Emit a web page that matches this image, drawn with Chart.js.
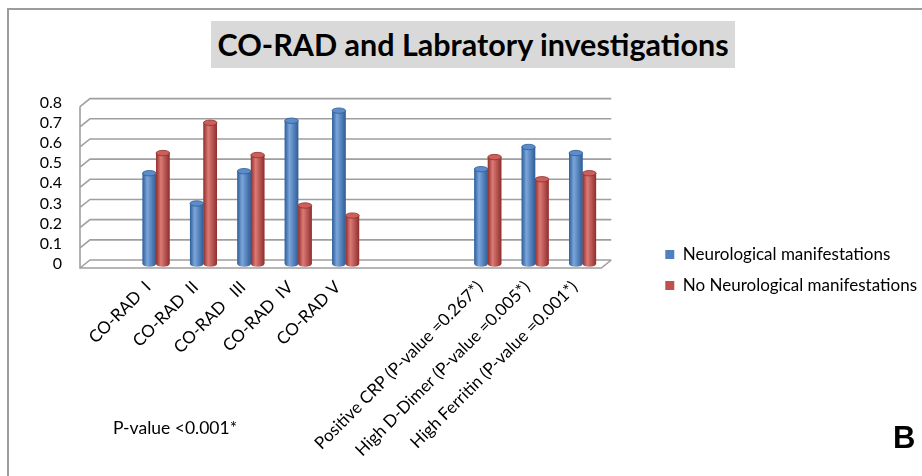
<!DOCTYPE html>
<html>
<head>
<meta charset="utf-8">
<title>CO-RAD and Labratory investigations</title>
<script src="https://cdn.jsdelivr.net/npm/chart.js@4.4.1/dist/chart.umd.min.js"></script>
<style>
  body { margin: 0; background: #fff; }
  #page { position: relative; width: 922px; height: 476px; overflow: hidden; background: #fff; font-family: Lato, sans-serif; color: #000; }
  #frame { position: absolute; left: 7px; top: 8px; width: 930px; height: 480px; border-top: 2px solid #9c9c9c; border-left: 2px solid #9c9c9c; }
  #title { position: absolute; left: 211px; top: 21px; width: 524px; height: 47px; background: #d9d9d9; font-weight: bold; font-size: 30.5px; line-height: 47px; text-align: center; white-space: nowrap; }
  #pvalue { position: absolute; left: 113px; top: 417px; font-size: 17.5px; }
  #panel { position: absolute; left: 893px; top: 420px; font-family: "Liberation Sans", Arial, sans-serif; font-weight: bold; font-size: 31px; }
  #chartBox { position: absolute; left: 10px; top: 70px; width: 917px; height: 400px; }
</style>
</head>
<body>
<div id="page">
  <div id="frame"></div>
  <div id="title">CO-RAD and Labratory investigations</div>
  <div id="chartBox"><canvas id="coradChart"></canvas></div>
  <div id="pvalue">P-value &lt;0.001*</div>
  <div id="panel">B</div>
</div>
<script>
const categories = ['', 'CO-RAD  I', 'CO-RAD  II', 'CO-RAD   III', 'CO-RAD  IV', 'CO-RAD V', '', '',
    'Positive CRP (P-value =0.267*)', 'High D-Dimer (P-value =0.005*)', 'High Ferritin (P-value =0.001*)']
const neuroValues = [null, 0.45, 0.30, 0.46, 0.71, 0.76, null, null, 0.47, 0.58, 0.55]
const noNeuroValues = [null, 0.55, 0.70, 0.54, 0.29, 0.24, null, null, 0.53, 0.42, 0.45]
const yTicks = [0, 0.1, 0.2, 0.3, 0.4, 0.5, 0.6, 0.7, 0.8]
const seriesNames = ['Neurological manifestations', 'No Neurological manifestations']

const seriesColors = ['#4f81bd', '#c0504d']
const shades = [
    { dark: '#2f5d96', light: '#7aa6dc', top: '#5b8ccb' },
    { dark: '#8f2f2c', light: '#dc7a76', top: '#cd5f5b' }
]
const depth = { dx: 5, dy: 4 }

Chart.defaults.font.family = 'Lato'
Chart.defaults.color = '#000'

// pseudo 3D walls and floor
const walls = {
    id: 'walls',
    beforeDatasetsDraw(chart) {
        const { ctx, chartArea: a, scales: { y } } = chart
        const { dx, dy } = depth
        ctx.save()
        ctx.strokeStyle = '#9f9f9f'
        ctx.lineWidth = 1.6
        ctx.beginPath()
        yTicks.forEach(v => {
            const py = y.getPixelForValue(v)
            ctx.moveTo(a.left - dx, py + dy)
            ctx.lineTo(a.left + dx, py - dy)
            ctx.lineTo(a.right + dx, py - dy)
        })
        ctx.moveTo(a.left - dx, y.getPixelForValue(yTicks[yTicks.length - 1]) + dy)
        ctx.lineTo(a.left - dx, a.bottom + dy)
        ctx.lineTo(a.right - dx, a.bottom + dy)
        ctx.lineTo(a.right + dx, a.bottom - dy)
        ctx.stroke()
        ctx.restore()
    }
}

// shade the bars as cylinders
const cylinders = {
    id: 'cylinders',
    afterDatasetsDraw(chart) {
        const ctx = chart.ctx
        ctx.save()
        chart.data.datasets.forEach((ds, i) => {
            const shade = shades[i]
            chart.getDatasetMeta(i).data.forEach((bar, j) => {
                if (ds.data[j] == null) return
                const { x, y, base, width } = bar.getProps(['x', 'y', 'base', 'width'], true)
                const rx = width / 2, ry = width * 0.2
                const l = x - rx, r = x + rx
                const g = ctx.createLinearGradient(l, 0, r, 0)
                g.addColorStop(0, shade.dark)
                g.addColorStop(0.35, shade.light)
                g.addColorStop(1, shade.dark)
                ctx.fillStyle = g
                ctx.beginPath()
                ctx.moveTo(l, y)
                ctx.lineTo(l, base)
                ctx.ellipse(x, base, rx, ry, 0, Math.PI, 0, true)
                ctx.lineTo(r, y)
                ctx.closePath()
                ctx.fill()
                ctx.fillStyle = shade.top
                ctx.strokeStyle = shade.dark
                ctx.lineWidth = 0.8
                ctx.beginPath()
                ctx.ellipse(x, y, rx, ry, 0, 0, Math.PI * 2)
                ctx.fill()
                ctx.stroke()
            })
        })
        ctx.restore()
    }
}

new Chart(document.getElementById('coradChart'), {
    type: 'bar',
    data: {
        labels: categories,
        datasets: [
            { label: seriesNames[0], data: neuroValues, backgroundColor: seriesColors[0], borderWidth: 0 },
            { label: seriesNames[1], data: noNeuroValues, backgroundColor: seriesColors[1], borderWidth: 0 }
        ]
    },
    options: {
        responsive: true,
        maintainAspectRatio: false,
        animation: false,
        categoryPercentage: 0.57,
        barPercentage: 1,
        layout: { padding: { top: 26, left: 0, right: 0, bottom: 0 } },
        scales: {
            x: {
                grid: { display: false, drawTicks: false },
                border: { display: false },
                ticks: { autoSkip: false, maxRotation: 45, minRotation: 45, padding: 13, labelOffset: -8, font: { size: 17 } },
                afterFit(s) { s.height = 206 }
            },
            y: {
                min: 0,
                max: 0.8,
                grid: { display: false, drawTicks: false },
                border: { display: false },
                afterBuildTicks(s) { s.ticks = yTicks.map(v => ({ value: v })) },
                ticks: { autoSkip: false, padding: 23, font: { size: 16 }, callback: v => String(v) },
                afterFit(s) { s.width = 75 }
            },
            spacer: {
                position: 'right',
                display: true,
                grid: { display: false, drawTicks: false },
                border: { display: false },
                ticks: { display: false },
                afterFit(s) { s.width = 45 }
            }
        },
        plugins: {
            legend: {
                position: 'right',
                align: 'start',
                maxWidth: 320,
                title: { display: true, text: ' ', font: { size: 10 }, padding: { top: 0, bottom: 124 } },
                labels: { boxWidth: 9, boxHeight: 9, padding: 14, font: { size: 17 }, color: '#000' }
            },
            tooltip: { enabled: false }
        }
    },
    plugins: [walls, cylinders]
})
</script>
</body>
</html>
